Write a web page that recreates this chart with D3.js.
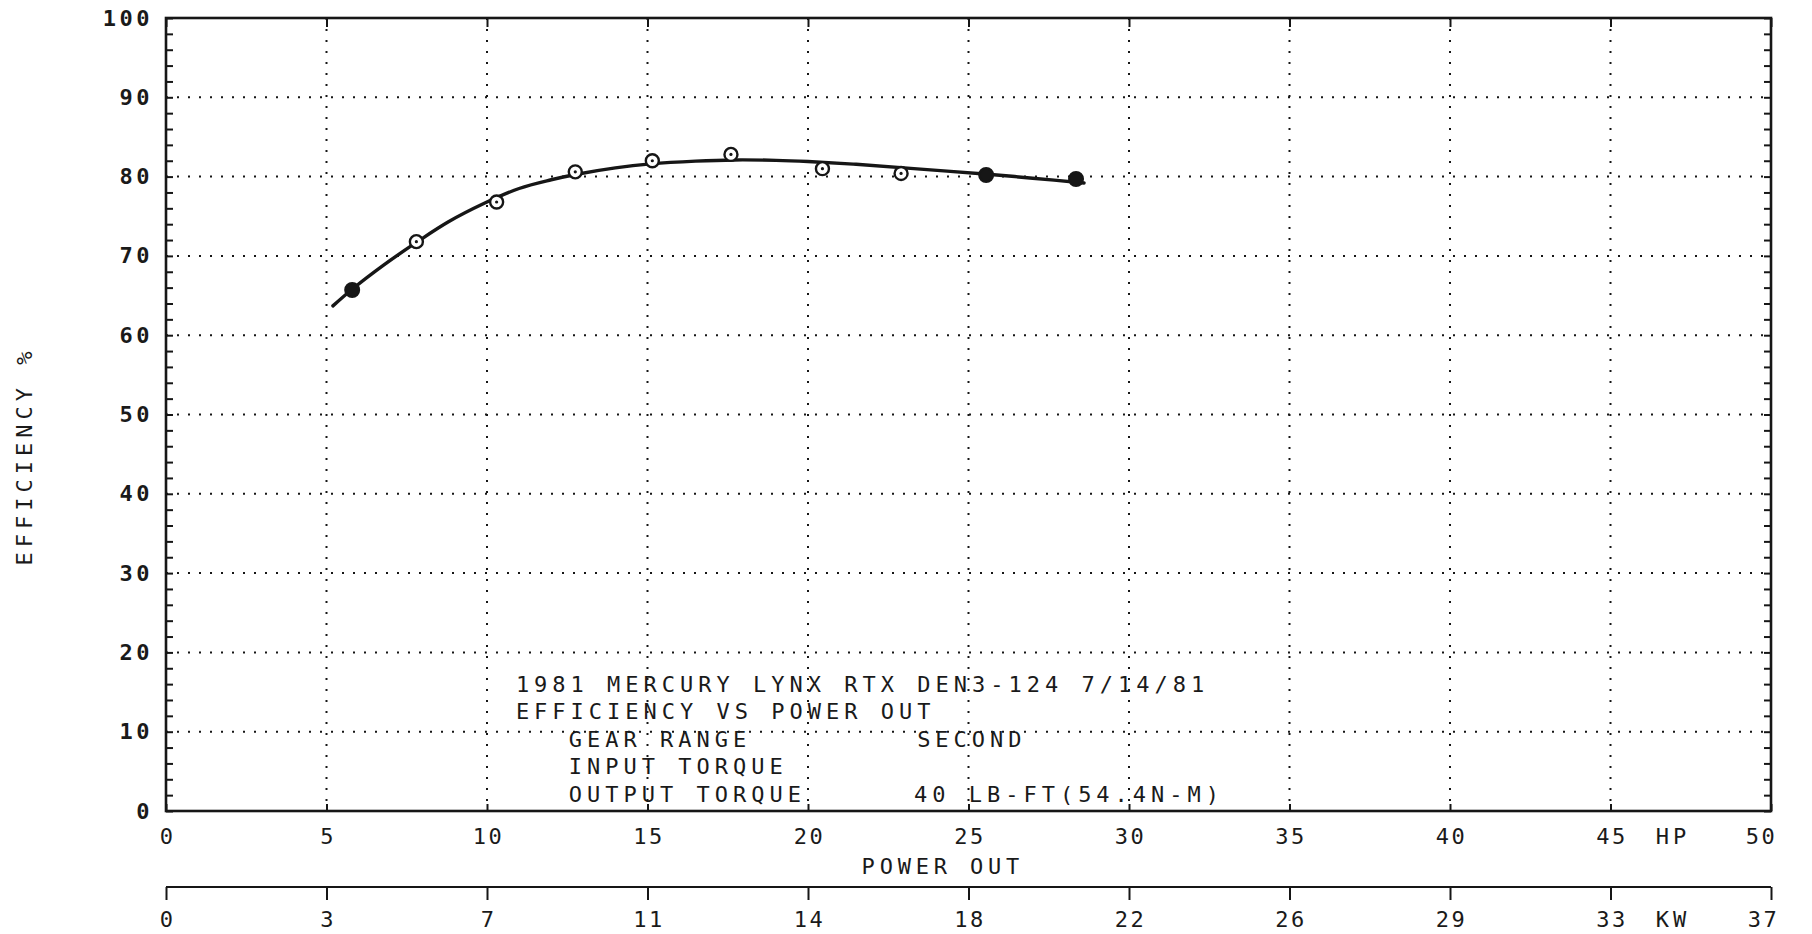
<!DOCTYPE html>
<html>
<head>
<meta charset="utf-8">
<script src="https://cdn.jsdelivr.net/npm/d3@7"></script>
<style>
  body { margin: 0; background: #fff; }
  svg text { font-family: "DejaVu Sans Mono", "Liberation Mono", monospace; fill: #1a1a1a; }
</style>
</head>
<body>
<div id="chart"></div>
<script>
// Efficiency axis (percent), major labels every 10
const effTicks = [0, 10, 20, 30, 40, 50, 60, 70, 80, 90, 100];
// Power out axis in HP, and the matching KW labels printed underneath
const hpTicks = [0, 5, 10, 15, 20, 25, 30, 35, 40, 45, 50];
const hpTickLabels = ["0", "5", "10", "15", "20", "25", "30", "35", "40", "45", "50"];
const kwTickLabels = ["0", "3", "7", "11", "14", "18", "22", "26", "29", "33", "37"];

// Measured points (HP, efficiency %)
const pointHp = [5.8, 7.8, 10.3, 12.75, 15.15, 17.6, 20.45, 22.9, 25.55, 28.35];
const pointEff = [65.7, 71.8, 76.8, 80.6, 82.0, 82.8, 81.0, 80.4, 80.2, 79.7];
const pointFilled = [true, false, false, false, false, false, false, false, true, true];

// Faired curve drawn through the points
const curveHp = [5.2, 5.8, 6.8, 7.8, 8.8, 9.9, 11.0, 12.0, 12.8, 14.0, 15.1, 16.5, 17.7, 19.0, 20.0, 21.5, 23.3, 25.6, 27.0, 28.6];
const curveEff = [63.7, 65.8, 68.9, 71.7, 74.3, 76.6, 78.5, 79.6, 80.3, 81.1, 81.6, 81.95, 82.1, 82.05, 81.9, 81.55, 81.0, 80.3, 79.8, 79.2];

// Note block printed inside the plot
const noteTitle = ["1981 MERCURY LYNX RTX DEN3-124 7/14/81", "EFFICIENCY VS POWER OUT"];
const noteLabels = ["GEAR RANGE", "INPUT TORQUE", "OUTPUT TORQUE"];
const noteValues = ["SECOND", "", "40 LB-FT(54.4N-M)"];

(function() {
    const W = 1812, H = 934;
    const margin = { top: 18, right: 41, bottom: 123, left: 166 },
        width = W - margin.left - margin.right,
        height = H - margin.top - margin.bottom;

    const root = d3.select("#chart")
        .append("svg")
        .attr("width", W)
        .attr("height", H);

    root.append("rect").attr("width", W).attr("height", H).attr("fill", "#fff");

    const svg = root.append("g")
        .attr("transform", `translate(${margin.left},${margin.top})`);

    const x = d3.scaleLinear().domain([0, 50]).range([0, width]);
    const y = d3.scaleLinear().domain([0, 100]).range([height, 0]);

    const ink = "#161616";
    const fs = "22px";

    // Dotted grid
    svg.append("g").selectAll("line")
        .data(hpTicks.slice(1, -1))
        .enter().append("line")
        .attr("x1", d => x(d)).attr("x2", d => x(d))
        .attr("y1", 0).attr("y2", height)
        .attr("stroke", ink).attr("stroke-width", 2)
        .attr("stroke-dasharray", "2 9");
    svg.append("g").selectAll("line")
        .data(effTicks.slice(1, -1))
        .enter().append("line")
        .attr("x1", 0).attr("x2", width)
        .attr("y1", d => y(d)).attr("y2", d => y(d))
        .attr("stroke", ink).attr("stroke-width", 2)
        .attr("stroke-dasharray", "2 9");

    // Inside minor ticks every 2 % on both vertical sides
    const minor = d3.range(0, 101, 2);
    const leftTicks = svg.append("g")
        .call(d3.axisLeft(y).tickValues(minor).tickSize(-7).tickFormat(""));
    const rightTicks = svg.append("g")
        .attr("transform", `translate(${width},0)`)
        .call(d3.axisRight(y).tickValues(minor).tickSize(-7).tickFormat(""));
    // HP ticks on bottom (pointing up) and top (pointing down)
    const bottomTicks = svg.append("g")
        .attr("transform", `translate(0,${height})`)
        .call(d3.axisBottom(x).tickValues(hpTicks).tickSize(-7).tickFormat(""));
    const topTicks = svg.append("g")
        .call(d3.axisTop(x).tickValues(hpTicks).tickSize(-9).tickFormat(""));
    [leftTicks, rightTicks, bottomTicks, topTicks].forEach(g => {
        g.select(".domain").remove();
        g.selectAll("line").attr("stroke", ink).attr("stroke-width", 2);
    });

    // Frame
    svg.append("rect")
        .attr("width", width).attr("height", height)
        .attr("fill", "none").attr("stroke", ink).attr("stroke-width", 2.6);

    // Efficiency labels
    const yLabels = svg.append("g")
        .call(d3.axisLeft(y).tickValues(effTicks).tickSize(0).tickPadding(13).tickFormat(d3.format("d")));
    yLabels.select(".domain").remove();
    yLabels.selectAll("text")
        .style("font-family", "'DejaVu Sans Mono', monospace")
        .style("font-size", fs)
        .style("font-weight", "bold")
        .style("letter-spacing", "3.5px")
        .attr("fill", ink);

    // HP labels
    const xLabels = svg.append("g")
        .attr("transform", `translate(0,${height})`)
        .call(d3.axisBottom(x).tickValues(hpTicks).tickSize(0).tickPadding(17)
            .tickFormat((d, i) => hpTickLabels[i]));
    xLabels.select(".domain").remove();
    xLabels.selectAll("text")
        .style("font-size", fs)
        .style("letter-spacing", "2.5px")
        .attr("dx", 1)
        .attr("fill", ink);
    xLabels.selectAll(".tick").filter(d => d === 50).select("text").attr("dx", -10);

    svg.append("text")
        .attr("x", x(46.95))
        .attr("y", height + 25)
        .attr("text-anchor", "middle")
        .attr("dominant-baseline", "central")
        .style("font-size", fs)
        .style("letter-spacing", "4px")
        .text("HP");

    svg.append("text")
        .attr("x", x(24.2))
        .attr("y", height + 55)
        .attr("text-anchor", "middle")
        .attr("dominant-baseline", "central")
        .style("font-size", fs)
        .style("letter-spacing", "4.8px")
        .text("POWER OUT");

    // KW axis below
    const kwY = height + 76;
    const kwAxis = svg.append("g")
        .attr("transform", `translate(0,${kwY})`)
        .call(d3.axisBottom(x).tickValues(hpTicks).tickSize(13).tickPadding(11)
            .tickFormat((d, i) => kwTickLabels[i]));
    kwAxis.select(".domain").attr("stroke", ink).attr("stroke-width", 2).attr("d", `M0,0H${width}`);
    kwAxis.selectAll("line").attr("stroke", ink).attr("stroke-width", 2);
    kwAxis.selectAll("text")
        .style("font-size", fs)
        .style("letter-spacing", "2.5px")
        .attr("dx", 1)
        .attr("fill", ink);
    kwAxis.selectAll(".tick").filter(d => d === 50).select("text").attr("dx", -8);

    svg.append("text")
        .attr("x", x(46.95))
        .attr("y", kwY + 32)
        .attr("text-anchor", "middle")
        .attr("dominant-baseline", "central")
        .style("font-size", fs)
        .style("letter-spacing", "4px")
        .text("KW");

    // Vertical axis title
    root.append("text")
        .attr("transform", `translate(24,456) rotate(-90)`)
        .attr("text-anchor", "middle")
        .attr("dominant-baseline", "central")
        .style("font-size", fs)
        .style("letter-spacing", "5px")
        .text("EFFICIENCY  %");

    // Note block
    const lineGap = 27.5;
    const noteTop = y(16);
    const notes = svg.append("g").style("font-size", fs).style("letter-spacing", "5px");
    notes.selectAll(".title")
        .data(noteTitle)
        .enter().append("text")
        .attr("class", "title")
        .attr("x", x(10.9))
        .attr("y", (d, i) => noteTop + i * lineGap)
        .attr("dominant-baseline", "central")
        .text(d => d);
    notes.selectAll(".lab")
        .data(noteLabels)
        .enter().append("text")
        .attr("class", "lab")
        .attr("x", x(12.55))
        .attr("y", (d, i) => noteTop + (i + 2) * lineGap)
        .attr("dominant-baseline", "central")
        .text(d => d);
    notes.selectAll(".val")
        .data(noteValues)
        .enter().append("text")
        .attr("class", "val")
        .attr("x", (d, i) => x(i === 2 ? 23.3 : 23.4))
        .attr("y", (d, i) => noteTop + (i + 2) * lineGap)
        .attr("dominant-baseline", "central")
        .text(d => d);

    // Curve
    const curve = d3.line()
        .x((d, i) => x(curveHp[i]))
        .y(d => y(d))
        .curve(d3.curveCatmullRom);
    svg.append("path")
        .datum(curveEff)
        .attr("d", curve)
        .attr("fill", "none")
        .attr("stroke", ink)
        .attr("stroke-width", 3.4)
        .attr("stroke-linecap", "round");

    // Points
    const pts = svg.append("g").selectAll("g")
        .data(pointHp.map((h, i) => ({ hp: h, eff: pointEff[i], filled: pointFilled[i] })))
        .enter().append("g")
        .attr("transform", d => `translate(${x(d.hp)},${y(d.eff)})`);
    pts.append("circle")
        .attr("r", d => d.filled ? 6.8 : 6.5)
        .attr("fill", d => d.filled ? ink : "#fff")
        .attr("stroke", ink)
        .attr("stroke-width", 2.4);
    pts.filter(d => !d.filled).append("circle")
        .attr("r", 1.6)
        .attr("fill", ink);
})();
</script>
</body>
</html>
